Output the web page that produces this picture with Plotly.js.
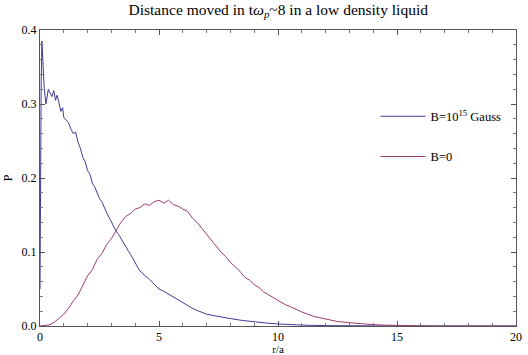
<!DOCTYPE html>
<html><head><meta charset="utf-8">
<script src="https://cdn.plot.ly/plotly-3.0.1.min.js"></script>
<style>html,body{margin:0;padding:0;background:#fff}#chart{width:528px;height:355px}</style>
</head><body><div id="chart"></div>
<script>
var rB = [0,0.02,0.05,0.08,0.12,0.18,0.25,0.3,0.35,0.42,0.5,0.58,0.65,0.72,0.8,0.88,0.95,1.0,1.1,1.2,1.3,1.4,1.5,1.6,1.7,1.8,1.9,2.0,2.1,2.2,2.3,2.4,2.5,2.6,2.7,2.8,2.9,3.0,3.1,3.2,3.3,3.4,3.5,3.6,3.7,3.8,3.9,4.0,4.1,4.2,4.3,4.4,4.6,4.8,5.0,5.2,5.4,5.6,5.8,6.0,6.2,6.4,6.6,6.8,7.0,7.3,7.6,8.0,8.5,9.0,9.5,10,10.5,11,12,13,14,15,20];
var pB = [0.05,0.2,0.33,0.385,0.35,0.32,0.3,0.31,0.32,0.315,0.31,0.318,0.305,0.312,0.302,0.29,0.295,0.282,0.278,0.275,0.266,0.26,0.262,0.248,0.24,0.228,0.222,0.21,0.205,0.193,0.188,0.18,0.172,0.168,0.16,0.153,0.147,0.14,0.135,0.128,0.124,0.118,0.112,0.108,0.102,0.097,0.091,0.086,0.08,0.074,0.072,0.068,0.063,0.056,0.05,0.047,0.043,0.039,0.035,0.031,0.028,0.024,0.021,0.018,0.016,0.014,0.012,0.010,0.0075,0.0055,0.004,0.0027,0.0018,0.0012,0.0005,0.0002,0.0001,0,0];
var r0 = [0,0.2,0.4,0.6,0.8,1.0,1.2,1.4,1.6,1.8,2.0,2.2,2.4,2.6,2.8,3.0,3.2,3.4,3.6,3.8,4.0,4.2,4.4,4.6,4.8,5.0,5.2,5.4,5.6,5.8,6.0,6.2,6.4,6.6,6.8,7.0,7.2,7.4,7.6,7.8,8.0,8.2,8.4,8.6,8.8,9.0,9.2,9.4,9.6,9.8,10.0,10.3,10.6,11.0,11.5,12.0,12.5,13.0,13.5,14.0,14.5,15.0,16,17,20];
var p0 = [0,0.0005,0.0015,0.005,0.01,0.016,0.024,0.034,0.042,0.055,0.068,0.076,0.09,0.098,0.11,0.118,0.13,0.14,0.148,0.152,0.158,0.16,0.165,0.163,0.168,0.17,0.166,0.17,0.164,0.162,0.158,0.155,0.146,0.14,0.132,0.124,0.115,0.108,0.1,0.094,0.086,0.08,0.074,0.066,0.062,0.056,0.052,0.046,0.042,0.039,0.034,0.029,0.025,0.019,0.013,0.009,0.006,0.0045,0.003,0.0018,0.0012,0.0006,0.0002,0,0];
var names = ['B=10<sup>15</sup> Gauss','B=0'];

var serif = 'Liberation Serif, DejaVu Serif, serif';
var traces = [
  {x:rB, y:pB, mode:'lines', name:names[0], legendgroup:'a', line:{color:'rgb(61,61,153)', width:1}},
  {x:r0, y:p0, mode:'lines', name:names[1], legendgroup:'b', line:{color:'rgb(153,61,113)', width:1}}
];
var ax = {showgrid:false, zeroline:false, showline:true, mirror:'ticks', linecolor:'#555', linewidth:1,
  ticks:'inside', ticklen:5, tickcolor:'#555', tickfont:{family:serif, size:12, color:'#000'}};
var layout = {
  width:528, height:355, margin:{l:40, r:12, t:30, b:29},
  paper_bgcolor:'#fff', plot_bgcolor:'#fff',
  font:{family:serif, color:'#000'},
  title:{text:'Distance moved in t<i>ω<sub>p</sub></i>~8 in a low density liquid', font:{family:serif, size:15.5, color:'#000'}, x:0.527, xanchor:'center', y:0.988, yanchor:'top'},
  xaxis:Object.assign({}, ax, {range:[0,20], dtick:5, tick0:0,
    minor:{dtick:1, ticks:'inside', ticklen:3, tickcolor:'#777'},
    title:{text:'r/a', font:{family:serif, size:11, color:'#000'}, standoff:2}}),
  yaxis:Object.assign({}, ax, {range:[0,0.4], dtick:0.1, tick0:0, tickformat:'.1f',
    minor:{dtick:0.02, ticks:'inside', ticklen:3, tickcolor:'#777'},
    title:{text:'P', font:{family:serif, size:12, color:'#000'}, standoff:6}}),
  showlegend:true,
  legend:{x:0.705, y:0.758, xanchor:'left', yanchor:'top', bgcolor:'rgba(0,0,0,0)', tracegroupgap:21,
    font:{family:serif, size:12.5, color:'#000'}, itemwidth:45}
};
Plotly.newPlot('chart', traces, layout, {displayModeBar:false, staticPlot:true});
</script></body></html>
